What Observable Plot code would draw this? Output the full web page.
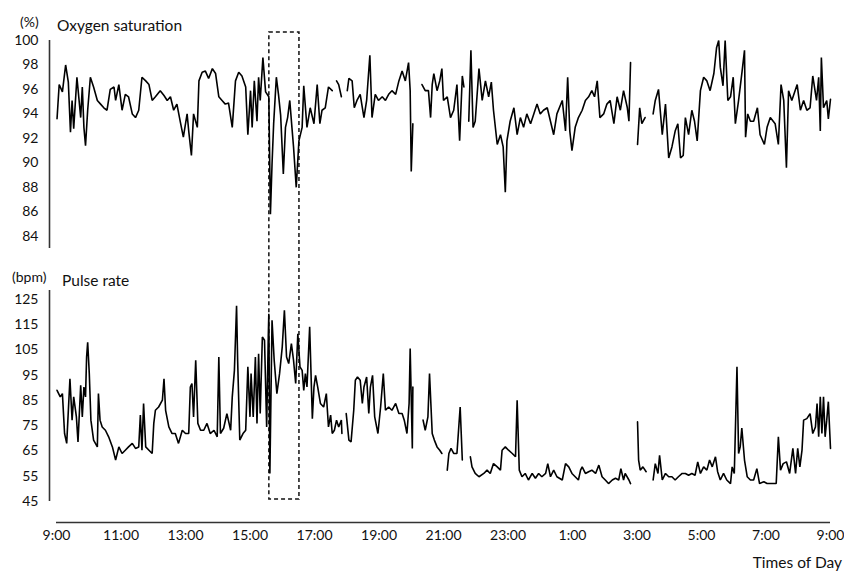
<!DOCTYPE html>
<html>
<head>
<meta charset="utf-8">
<script src="https://cdn.jsdelivr.net/npm/d3@7"></script>
<script src="https://cdn.jsdelivr.net/npm/@observablehq/plot@0.6"></script>
<style>
  body { margin: 0; background: #fff; }
  #wrap { position: relative; width: 844px; height: 572px; font-family: Lato, "Open Sans", sans-serif; color: #111; }
  #wrap svg { position: absolute; left: 0; top: 0; }
  .lbl { position: absolute; line-height: 1; white-space: nowrap; transform: translateY(-50%); }
</style>
</head>
<body>
<div id="wrap">
  <span class="lbl" style="left:20px;top:22px;font-size:14px">(%)</span>
  <span class="lbl" style="left:57px;top:26px;font-size:15.5px">Oxygen saturation</span>
  <span class="lbl" style="left:12px;top:277px;font-size:14px">(bpm)</span>
  <span class="lbl" style="left:62px;top:281px;font-size:15.5px">Pulse rate</span>
  <span class="lbl" style="right:2px;top:563px;font-size:15.5px">Times of Day</span>
</div>
<script>
// minutes after 9:00 (day 1) -> value; null = no signal
const spo2Minutes = [1,5,11,17,22,26,29,32,38,45,48,51,54,58,63,69,76,82,88,94,100,107,110,116,122,128,134,141,147,153,159,166,172,178,184,193,200,206,212,218,224,231,236,243,246,251,255,262,265,271,277,283,290,296,302,308,314,320,327,333,339,345,352,356,361,364,368,373,376,379,384,389,395,398,401,404,409,413,417,422,426,430,434,438,441,446,451,457,460,466,472,479,485,490,494,500,506,513,516,521,525,530,535,541,544,550,554,559,565,572,577,583,587,593,599,606,612,618,624,631,637,643,649,655,658,660,663,670,680,686,692,696,699,702,708,713,717,720,727,733,739,745,750,755,758,762,767,771,775,779,786,792,798,804,809,813,820,826,831,835,838,844,851,857,863,869,875,882,888,894,900,906,913,919,925,931,941,947,951,955,959,965,971,978,984,990,996,1001,1006,1011,1018,1024,1030,1037,1043,1049,1055,1062,1065,1068,1074,1081,1085,1089,1095,1102,1110,1114,1120,1127,1133,1139,1145,1151,1156,1161,1166,1170,1176,1182,1187,1192,1198,1204,1210,1216,1223,1228,1232,1235,1240,1244,1249,1254,1259,1263,1269,1275,1280,1282,1286,1291,1297,1304,1309,1317,1322,1328,1337,1343,1348,1353,1358,1362,1368,1378,1384,1390,1396,1402,1407,1414,1418,1421,1423,1427,1433,1436,1440];
const spo2Values = [93.6,96.4,95.8,98.0,96.6,92.5,95.1,92.8,97.0,93.7,96.2,92.9,91.4,94.3,97.0,96.2,95.1,94.8,94.5,94.3,96.0,96.2,95.1,96.4,94.3,95.6,95.4,94.0,93.7,94.3,97.0,96.7,96.4,95.1,95.4,95.9,95.5,95.1,95.4,94.3,94.8,93.2,92.1,94.0,92.6,90.6,94.0,92.9,96.7,97.4,97.5,96.9,97.7,97.3,95.4,95.1,94.8,94.9,92.9,96.7,97.4,97.1,96.2,92.3,95.9,92.9,96.7,93.4,97.0,95.1,98.6,95.8,95.4,85.8,89.9,93.2,97.0,95.6,93.9,89.1,92.9,93.7,95.1,92.9,91.3,88.0,91.8,92.9,96.3,92.9,94.5,93.2,96.4,93.2,94.3,94.5,96.2,95.9,null,96.7,96.4,95.4,null,95.9,96.9,96.7,94.5,95.1,95.6,93.7,95.1,98.8,93.7,95.6,95.1,95.4,95.1,95.6,95.9,95.6,96.7,97.5,96.7,98.2,95.9,89.3,93.2,null,96.4,95.9,95.9,93.7,96.4,97.3,95.9,96.7,97.7,95.1,95.4,93.7,94.3,96.4,91.8,97.1,96.2,null,93.4,99.2,92.9,93.4,97.7,95.1,96.7,95.4,96.6,94.3,91.5,92.3,91.3,87.6,91.8,93.4,94.5,92.3,93.7,92.9,94.0,93.2,94.0,94.8,94.0,94.3,94.5,93.4,92.3,94.0,95.1,92.6,97.0,92.6,91.0,92.9,93.7,94.3,95.1,95.4,95.9,95.4,96.7,93.7,94.0,94.8,95.1,93.2,95.4,94.3,95.9,94.5,93.4,98.2,null,91.5,94.5,93.2,93.7,null,94.0,95.1,96.0,92.3,94.8,90.4,91.3,92.6,93.2,90.4,90.6,93.7,92.3,94.3,93.4,91.8,95.9,97.0,96.7,95.9,97.3,99.4,100,97.8,96.3,100,95.1,95.4,97.0,93.2,95.1,97.3,99.2,92.1,94.0,93.4,93.4,94.5,92.3,91.5,92.9,93.7,93.2,91.5,96.4,95.1,89.6,95.9,95.1,96.4,94.3,95.1,94.3,94.5,97.1,95.1,97.0,92.6,98.6,94.5,95.1,93.6,95.2];

const pulseMinutes = [1,7,11,15,19,25,29,32,37,40,45,48,51,54,56,58,61,64,69,76,78,81,85,91,97,104,110,116,122,128,134,141,147,153,156,159,162,166,172,178,181,184,190,197,200,203,209,215,221,227,234,240,246,249,252,255,259,263,268,274,280,286,293,299,302,305,311,317,324,327,331,335,337,341,347,352,356,360,362,366,370,373,376,379,383,387,391,394,395,397,401,405,410,415,420,424,428,432,437,441,445,449,453,457,460,463,466,471,476,479,482,486,491,497,502,506,510,513,517,521,525,530,531,535,539,544,548,553,556,560,565,569,572,577,581,584,588,592,598,603,608,612,618,624,631,637,643,647,652,656,658,662,663,670,682,686,691,694,699,703,708,713,717,722,727,730,734,739,745,748,751,755,762,770,773,779,786,795,801,807,813,820,826,829,835,841,848,854,857,861,866,872,878,885,891,897,903,910,914,919,925,931,941,947,953,959,965,971,975,978,984,990,996,1003,1009,1015,1021,1027,1034,1040,1046,1050,1055,1058,1065,1068,1074,1081,1083,1086,1091,1097,1103,1110,1114,1119,1122,1127,1133,1139,1145,1151,1157,1164,1170,1176,1182,1188,1193,1198,1204,1210,1215,1220,1226,1230,1235,1241,1247,1254,1257,1261,1266,1269,1272,1275,1280,1285,1291,1297,1303,1308,1316,1322,1331,1339,1343,1347,1352,1358,1364,1370,1375,1379,1383,1387,1390,1396,1402,1407,1412,1415,1418,1421,1424,1427,1430,1433,1436,1440];
const pulseValues = [89.0,86.4,87.7,71.9,68.0,93.6,77.2,86.4,78.5,68.6,91.0,78.5,90.3,86.4,102.2,108.0,95.6,77.2,69.3,66.6,87.7,77.2,74.5,73.2,70.6,66.6,61.4,66.6,64.0,65.3,66.6,68.0,66.0,66.6,79.2,65.3,83.8,66.6,65.3,64.0,75.9,81.1,82.4,85.1,93.6,81.1,74.5,71.9,71.9,68.0,73.2,71.9,71.9,90.3,91.7,78.5,100.9,75.9,73.2,73.2,75.9,71.9,73.2,70.6,102.2,71.9,74.0,79.8,73.2,86.4,96.9,122.5,100.9,69.3,71.9,73.2,98.3,78.5,95.6,78.5,102.2,75.9,103.5,79.8,110.1,108.8,74.5,110.1,119.3,56.1,116.7,100.9,87.7,95.6,106.2,120.7,102.2,99.6,107.5,100.9,91.7,111.4,98.3,96.9,89.0,95.6,90.3,114.1,77.8,90.3,94.9,90.3,83.8,82.4,87.7,74.5,79.2,71.9,73.2,77.2,74.5,77.2,71.9,null,79.8,69.3,68.6,81.1,93.0,94.3,93.0,83.8,90.3,94.3,79.8,90.3,94.9,78.5,71.9,82.4,95.6,81.1,82.4,81.1,83.8,79.8,79.8,77.2,71.9,83.8,105.5,66.0,90.3,null,77.2,73.2,78.5,95.6,71.9,69.3,66.6,65.3,64.0,null,57.4,64.0,66.0,64.0,64.0,73.2,82.4,61.4,null,62.7,58.7,56.1,54.8,56.1,57.4,56.1,60.0,58.7,57.4,65.3,66.6,65.3,64.0,62.7,85.1,57.4,54.8,56.1,53.5,56.1,54.2,56.1,54.8,56.1,60.0,54.8,57.4,54.8,53.5,60.0,58.7,56.1,54.8,53.5,57.4,58.7,56.1,56.8,57.4,56.1,59.4,54.8,53.5,52.1,53.5,54.2,53.5,58.0,53.5,56.1,53.5,52.1,null,76.5,61.4,57.4,58.7,56.8,null,53.5,60.0,56.1,63.3,53.5,56.1,54.8,54.8,53.5,54.8,56.1,56.1,55.4,56.1,55.4,60.7,56.1,58.7,57.4,61.4,58.7,62.7,56.8,53.5,56.1,53.5,52.1,58.7,56.1,98.3,64.0,66.6,74.1,61.4,54.8,53.5,53.5,58.0,52.1,52.8,52.1,52.1,52.1,70.6,57.4,60.0,60.7,56.1,66.0,56.1,66.0,58.7,65.3,77.2,77.8,79.8,71.9,74.5,83.8,70.6,86.4,71.9,86.4,70.6,77.2,84.5,66.0];

const timeDomain = [0, 1440];
const tickMinutes = [0,120,240,360,480,600,720,840,960,1080,1200,1320,1440];
const tickLabels = ["9:00","11:00","13:00","15:00","17:00","19:00","21:00","23:00","1:00","3:00","5:00","7:00","9:00"];
const spo2Domain = [83, 100];
const spo2Ticks = [84,86,88,90,92,94,96,98,100];
const pulseDomain = [45, 128.5];
const pulseTicks = [45,55,65,75,85,95,105,115,125];
const highlight = [{start: 396, end: 452}]; // ~15:36 – 16:32

const toRows = (ms, vs) => ms.map((m, i) => ({t: m, v: vs[i] == null ? NaN : vs[i]}));
const spo2Rows = toRows(spo2Minutes, spo2Values);
const pulseRows = toRows(pulseMinutes, pulseValues);

const plotStyle = {fontFamily: "Lato, 'Open Sans', sans-serif", fontSize: "14px", background: "transparent", color: "#111", overflow: "visible"};
const axisColor = "#333";

const pulsePlot = Plot.plot({
  width: 844, height: 572,
  marginLeft: 56, marginRight: 14, marginTop: 32, marginBottom: 73,
  style: plotStyle,
  x: {domain: timeDomain},
  y: {domain: pulseDomain, range: [501, 290]},
  marks: [
    Plot.rect(highlight, {x1: "start", x2: "end", fill: "none", stroke: "#111", strokeWidth: 1.5, strokeDasharray: "4,3"}),
    Plot.ruleX([timeDomain[0]], {y1: pulseDomain[0], y2: pulseDomain[1], dx: -7, stroke: axisColor, strokeWidth: 1.6}),
    Plot.ruleY([pulseDomain[0]], {x1: timeDomain[0], x2: timeDomain[1], dy: 21, stroke: axisColor, strokeWidth: 1.6}),
    Plot.axisY({ticks: pulseTicks, tickSize: 0, tickPadding: 18, label: null, fontSize: 14}),
    Plot.axisX({ticks: tickMinutes, tickFormat: (d) => tickLabels[tickMinutes.indexOf(d)], tickSize: 0, tickPadding: 31, label: null, fontSize: 14}),
    Plot.line(pulseRows, {x: "t", y: "v", stroke: "#000", strokeWidth: 1.6, strokeLinejoin: "miter"})
  ]
});

const spo2Plot = Plot.plot({
  width: 844, height: 260,
  marginLeft: 56, marginRight: 14, marginTop: 40, marginBottom: 12,
  style: plotStyle,
  x: {domain: timeDomain, axis: null},
  y: {domain: spo2Domain},
  marks: [
    Plot.ruleX([timeDomain[0]], {dx: -7, stroke: axisColor, strokeWidth: 1.6}),
    Plot.axisY({ticks: spo2Ticks, tickSize: 0, tickPadding: 18, label: null, fontSize: 14}),
    Plot.line(spo2Rows, {x: "t", y: "v", stroke: "#000", strokeWidth: 1.6, strokeLinejoin: "miter"})
  ]
});

const wrap = document.getElementById("wrap");
wrap.insertBefore(spo2Plot, wrap.firstChild);
wrap.insertBefore(pulsePlot, wrap.firstChild);
</script>
</body>
</html>
